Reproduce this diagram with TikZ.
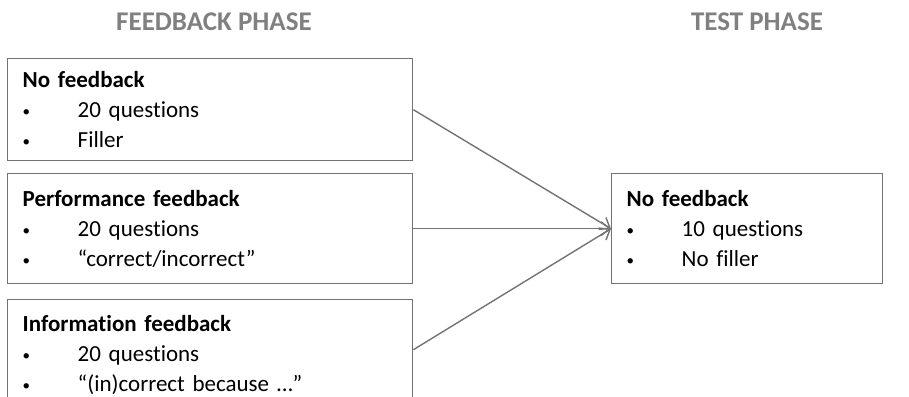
\documentclass[tikz,border=0pt]{standalone}
\usepackage{fontspec}
\setmainfont{Carlito}[Ligatures=NoCommon]
\usetikzlibrary{arrows.meta}
\newcommand{\bul}[1]{\makebox[55pt][l]{\raisebox{1pt}{\fontsize{15}{15}\selectfont\textbullet}}#1}
\begin{document}
\begin{tikzpicture}[x=1pt,y=-1pt,
  phase/.style={text=black!50,font=\bfseries\fontsize{27}{30}\selectfont},
  fbbox/.style={draw=black!55,line width=1.4pt,anchor=north west,align=left,
    inner xsep=15pt,font=\fontsize{23}{30}\selectfont,minimum height=110pt},
  conn/.style={draw=black!55,line width=1.4pt,-{Straight Barb[length=9pt,width=14pt,line width=1.4pt]}}]
\useasboundingbox (0,0) rectangle (909,396);
\node [phase] (fbphase) at (214,22) {FEEDBACK PHASE};
\node [phase] (testphase) at (757,22) {TEST PHASE};
\node [fbbox,text width=375pt,minimum height=102pt] (nofb) at (7,58)
  {\textbf{No feedback}\\ \bul{20 questions}\\ \bul{Filler}};
\node [fbbox,text width=375pt] (perffb) at (7,173)
  {\textbf{Performance feedback}\\ \bul{20 questions}\\ \bul{“correct/incorrect”}};
\node [fbbox,text width=375pt] (infofb) at (7,299)
  {\textbf{Information feedback}\\ \bul{20 questions}\\ \bul{“(in)correct because …”}};
\node [fbbox,text width=241pt] (testfb) at (611,173)
  {\textbf{No feedback}\\ \bul{10 questions}\\ \bul{No filler}};
\draw [conn] (nofb.east) -- (testfb.west);
\draw [conn] (perffb.east) -- (testfb.west);
\draw [conn] ([yshift=5pt]infofb.east) -- (testfb.west);
\end{tikzpicture}
\end{document}
